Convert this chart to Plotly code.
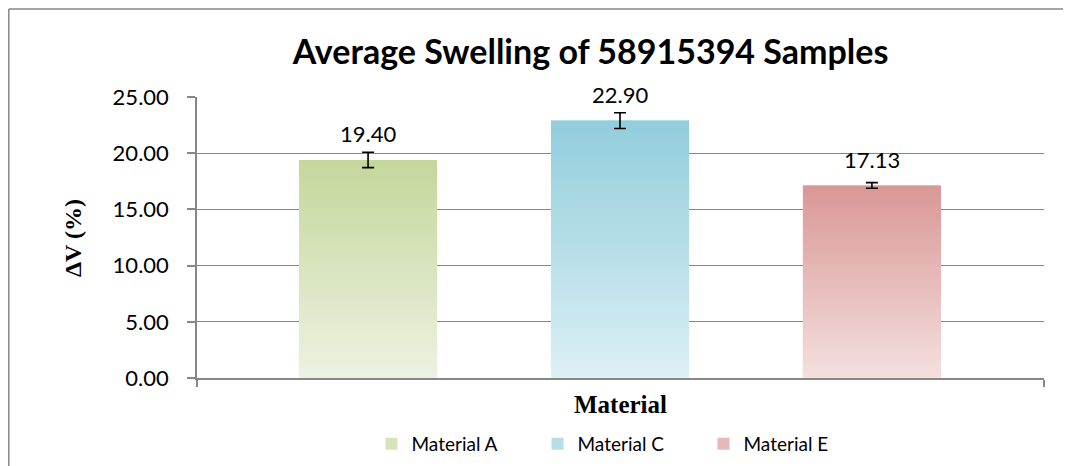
import plotly.graph_objects as go

categories = ["Material A", "Material C", "Material E"]
values = [19.40, 22.90, 17.13]
errors = [0.68, 0.70, 0.25]
value_labels = ["19.40", "22.90", "17.13"]
y_ticks = [0, 5, 10, 15, 20, 25]
y_tick_labels = ["0.00", "5.00", "10.00", "15.00", "20.00", "25.00"]

top_colors = ["#c4d79b", "#92cddc", "#d99795"]
bottom_colors = ["#edf2e2", "#dcf0f5", "#f4e0df"]
mid_colors = ["#d6e3bd", "#b6dde8", "#e5b9b7"]

BAR_W = 0.548
GRAY = "#878787"

fig = go.Figure()
positions = list(range(len(categories)))

# library bars (legend + base)
for i, (cat, v) in enumerate(zip(categories, values)):
    fig.add_trace(go.Bar(
        x=[positions[i]], y=[v], name=cat, width=BAR_W,
        marker=dict(color=mid_colors[i], line=dict(width=0)),
        showlegend=True, hoverinfo="skip",
    ))

# gradient overlay matching each bar
for i, (cat, v) in enumerate(zip(categories, values)):
    xc = positions[i]
    fig.add_trace(go.Scatter(
        x=[xc - BAR_W / 2, xc + BAR_W / 2, xc + BAR_W / 2, xc - BAR_W / 2, xc - BAR_W / 2],
        y=[0, 0, v, v, 0],
        mode="none", fill="toself",
        fillgradient=dict(type="vertical",
                          colorscale=[[0, bottom_colors[i]], [1, top_colors[i]]]),
        showlegend=False, hoverinfo="skip",
    ))

# error bars on top
fig.add_trace(go.Scatter(
    x=positions, y=values, mode="markers",
    marker=dict(size=1, color="rgba(0,0,0,0)"),
    error_y=dict(type="data", array=errors, visible=True, color="black",
                 thickness=1.6, width=6),
    showlegend=False, hoverinfo="skip",
))

# value labels
for i, v in enumerate(values):
    fig.add_annotation(x=positions[i], y=v, text=value_labels[i], showarrow=False,
                       yanchor="middle", yshift=26,
                       font=dict(family="Lato", size=22, color="black"))

# axis titles
fig.add_annotation(x=0.5, y=-0.095, xref="paper", yref="paper", text="<b>Material</b>",
                   showarrow=False, yanchor="middle", xanchor="center",
                   font=dict(family="Liberation Serif", size=25, color="black"))
fig.add_annotation(x=-0.147, y=0.5, xref="paper", yref="paper", text="<b>ΔV (%)</b>",
                   showarrow=False, textangle=-90, yanchor="middle", xanchor="center",
                   font=dict(family="Liberation Serif", size=24, color="black"))

# chart border (left + top)
fig.add_shape(type="line", xref="paper", yref="paper", x0=-0.2222, x1=-0.2222,
              y0=1.3129, y1=-0.36, line=dict(color=GRAY, width=1.5))
fig.add_shape(type="line", xref="paper", yref="paper", x0=-0.2222, x1=1.06,
              y0=1.3129, y1=1.3129, line=dict(color=GRAY, width=1.5))

fig.update_layout(
    width=1071, height=466,
    margin=dict(l=189, r=35, t=89, b=95),
    paper_bgcolor="white", plot_bgcolor="white",
    barmode="overlay",
    title=dict(text="<b>Average Swelling of 58915394 Samples</b>", x=0.5439, xanchor="center",
               y=0.905, yanchor="middle",
               font=dict(family="Lato", size=34, color="black")),
    xaxis=dict(range=[-0.679, 2.683], showgrid=False, zeroline=False,
               showline=True, linecolor=GRAY, linewidth=1.5,
               tickvals=[-0.679, 2.683], ticktext=["", ""], ticks="outside",
               ticklen=7, tickcolor=GRAY, tickwidth=1.5, showticklabels=False),
    yaxis=dict(range=[0, 25], tickvals=y_ticks, ticktext=y_tick_labels,
               showgrid=True, gridcolor=GRAY, gridwidth=1, zeroline=False,
               showline=True, linecolor=GRAY, linewidth=1.5,
               ticks="outside", ticklen=8, tickcolor=GRAY, tickwidth=1.5,
               ticklabelstandoff=14,
               tickfont=dict(family="Lato", size=22, color="black")),
    legend=dict(orientation="h", x=0.500, xanchor="center", y=-0.23, yanchor="middle",
                font=dict(family="Lato", size=19, color="black"),
                entrywidth=121, entrywidthmode="pixels", itemwidth=30,
                bgcolor="rgba(0,0,0,0)"),
    showlegend=True,
)

fig.write_html("out.html")
